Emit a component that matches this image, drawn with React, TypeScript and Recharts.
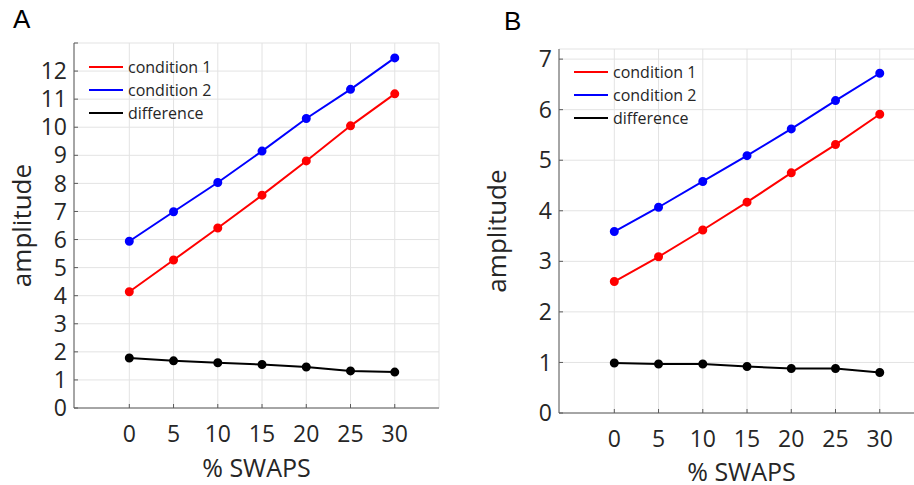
import React from 'react';
import { LineChart, Line, XAxis, YAxis, CartesianGrid, Legend } from 'recharts';

const swaps = [0, 5, 10, 15, 20, 25, 30];

const condition1A = [4.14, 5.27, 6.41, 7.58, 8.8, 10.05, 11.19];
const condition2A = [5.94, 6.99, 8.03, 9.15, 10.31, 11.35, 12.47];
const differenceA = [1.78, 1.68, 1.61, 1.55, 1.46, 1.32, 1.28];

const condition1B = [2.6, 3.09, 3.62, 4.17, 4.75, 5.31, 5.91];
const condition2B = [3.59, 4.07, 4.58, 5.09, 5.62, 6.18, 6.72];
const differenceB = [0.99, 0.97, 0.97, 0.92, 0.88, 0.88, 0.8];

const xTicks = [0, 5, 10, 15, 20, 25, 30];
const yTicksA = [0, 1, 2, 3, 4, 5, 6, 7, 8, 9, 10, 11, 12, 13];
const yTicksB = [0, 1, 2, 3, 4, 5, 6, 7];

const FONT = '"Open Sans", sans-serif';
const BOX = '#5a5a5a';
const TEXT = '#262626';

const build = (c1: number[], c2: number[], diff: number[]) =>
  swaps.map((s, i) => ({ swaps: s, c1: c1[i], c2: c2[i], diff: diff[i] }));

const dataA = build(condition1A, condition2A, differenceA);
const dataB = build(condition1B, condition2B, differenceB);

const LegendBox = ({ payload }: any) => (
  <div style={{ fontFamily: FONT, fontSize: 16, color: TEXT, lineHeight: '20px' }}>
    {(payload || []).map((p: any) => (
      <div key={p.value} style={{ display: 'flex', alignItems: 'center', height: 23.3 }}>
        <span style={{ display: 'inline-block', width: 34, height: 2, background: p.color, marginRight: 5 }} />
        <span>{p.value}</span>
      </div>
    ))}
  </div>
);

interface PanelProps {
  data: any[];
  yMax: number;
  yTicks: number[];
  width: number;
  margin: { top: number; right: number };
  yAxisWidth: number;
  xAxisHeight: number;
  legendPos: { left: number; top: number };
  yLabelDx: number;
  xLabelOffset: number;
}

const Panel = ({ data, yMax, yTicks, width, margin, yAxisWidth, xAxisHeight, legendPos, yLabelDx, xLabelOffset }: PanelProps) => (
  <LineChart width={width} height={485} data={data} margin={{ top: margin.top, right: margin.right, left: 0, bottom: 0 }}>
    <CartesianGrid stroke="#e3e3e3" strokeWidth={1} />
    <XAxis
      dataKey="swaps"
      type="number"
      domain={[-6.25, 35]}
      ticks={xTicks}
      interval={0}
      allowDataOverflow
      height={xAxisHeight}
      stroke={BOX}
      tickSize={-4}
      tickMargin={22}
      tick={{ fill: TEXT, fontSize: 23, fontFamily: FONT }}
      label={{ value: '% SWAPS', position: 'insideBottom', offset: xLabelOffset, fill: TEXT, fontSize: 25, fontFamily: FONT }}
    />
    <XAxis xAxisId="top" orientation="top" type="number" domain={[-6.25, 35]} ticks={xTicks} interval={0} allowDataOverflow height={0} stroke={BOX} tickSize={-4} tick={false} />
    <YAxis
      type="number"
      domain={[0, yMax]}
      ticks={yTicks}
      interval={0}
      allowDataOverflow
      width={yAxisWidth}
      stroke={BOX}
      tickSize={-4}
      tickMargin={11}
      tickFormatter={(v) => (v === yMax ? '' : String(v))}
      tick={{ fill: TEXT, fontSize: 23, fontFamily: FONT }}
      label={{ value: 'amplitude', angle: -90, position: 'center', dx: yLabelDx, fill: TEXT, fontSize: 26, fontFamily: FONT }}
    />
    <YAxis yAxisId="right" orientation="right" type="number" domain={[0, yMax]} ticks={yTicks} interval={0} width={0} stroke={BOX} tickSize={-4} tick={false} />
    <Legend
      layout="vertical"
      verticalAlign="middle"
      align="center"
      content={<LegendBox />}
      wrapperStyle={{ left: legendPos.left, top: legendPos.top, width: 'auto', height: 'auto' }}
    />
    <Line dataKey="c1" name="condition 1" stroke="#ff0000" strokeWidth={2} dot={{ r: 3.5, fill: '#ff0000', stroke: '#ff0000' }} isAnimationActive={false} />
    <Line dataKey="c2" name="condition 2" stroke="#0000ff" strokeWidth={2} dot={{ r: 3.5, fill: '#0000ff', stroke: '#0000ff' }} isAnimationActive={false} />
    <Line dataKey="diff" name="difference" stroke="#000000" strokeWidth={2} dot={{ r: 3.5, fill: '#000000', stroke: '#000000' }} isAnimationActive={false} />
  </LineChart>
);

export default function App() {
  return (
    <div style={{ position: 'absolute', left: 0, top: 0, width: 914, height: 485, overflow: 'hidden', background: '#fff' }}>
      <div style={{ position: 'absolute', left: 13, top: 4, fontFamily: '"Liberation Sans", Arial, sans-serif', fontSize: 26, color: '#000' }}>A</div>
      <div style={{ position: 'absolute', left: 504, top: 6, fontFamily: '"Liberation Sans", Arial, sans-serif', fontSize: 26, color: '#000' }}>B</div>
      <div style={{ position: 'absolute', left: 0, top: 0 }}>
        <Panel
          data={dataA}
          yMax={13}
          yTicks={yTicksA}
          width={460}
          margin={{ top: 43, right: 21 }}
          yAxisWidth={74}
          xAxisHeight={77}
          legendPos={{ left: 89, top: 55 }}
          yLabelDx={-15}
          xLabelOffset={8}
        />
      </div>
      <div style={{ position: 'absolute', left: 460, top: 0 }}>
        <Panel
          data={dataB}
          yMax={7.2}
          yTicks={yTicksB}
          width={480}
          margin={{ top: 49, right: 16 }}
          yAxisWidth={99}
          xAxisHeight={72}
          legendPos={{ left: 114, top: 60 }}
          yLabelDx={-13}
          xLabelOffset={4}
        />
      </div>
    </div>
  );
}
